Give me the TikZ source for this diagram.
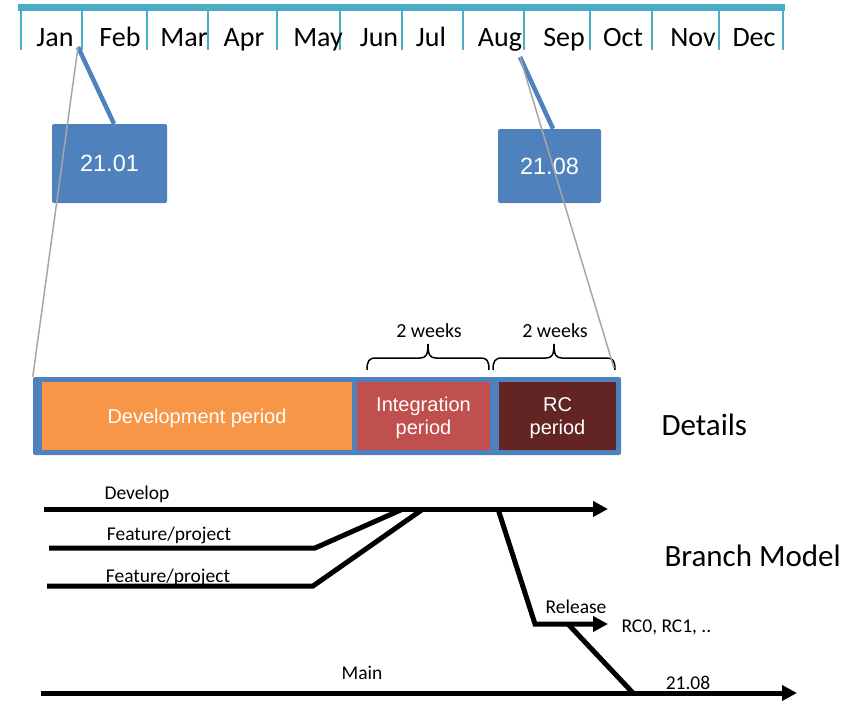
\documentclass[tikz,border=0pt]{standalone}
\usepackage{fontspec}
\setmainfont{Carlito}
\newfontfamily\arialfont{Liberation Sans}
\usetikzlibrary{arrows.meta}

\definecolor{barteal}{HTML}{4BACC6}
\definecolor{boxblue}{HTML}{4F81BD}
\definecolor{devorange}{HTML}{F79646}
\definecolor{integred}{HTML}{C0504D}
\definecolor{rcbrown}{HTML}{632523}
\definecolor{zoomgray}{HTML}{A6A6A6}

\begin{document}
\begin{tikzpicture}[x=1pt, y=-1pt,
	month/.style={anchor=base, font=\fontsize{28}{30}\selectfont},
	version/.style={fill=boxblue, rounded corners=2pt, inner sep=0, text=white, font=\arialfont\fontsize{23.5}{26}\selectfont},
	period/.style={inner sep=0, text=white, align=center, text depth=0pt, minimum height=68, font=\arialfont\fontsize{20}{23}\selectfont},
	callout/.style={boxblue, line width=4.5pt},
	zoomline/.style={zoomgray, line width=1.5pt},
	bracket/.style={line width=1.5pt},
	branch/.style={line width=5pt},
	arrowed/.style={-{Triangle[length=15pt,width=15pt]}},
	brlabel/.style={anchor=base, font=\fontsize{19.5}{22}\selectfont},
	heading/.style={anchor=base west, font=\fontsize{31}{34}\selectfont}]
	\useasboundingbox (0,0) rectangle (856,701);
	% month bar
	\fill[barteal] (18,4) rectangle (785,11);
	\draw[barteal, line width=2pt] (21,11) -- (21,50) (82,11) -- (82,50) (147,11) -- (147,50)
	  (208,11) -- (208,50) (277,11) -- (277,50) (340,11) -- (340,50) (402,11) -- (402,50)
	  (463,11) -- (463,50) (524,11) -- (524,50) (590,11) -- (590,50) (652,11) -- (652,50)
	  (719,11) -- (719,50) (783,11) -- (783,50);
	\node[month] (jan) at (55,47) {Jan};
	\node[month] (feb) at (120,47) {Feb};
	\node[month] (mar) at (184,47) {Mar};
	\node[month] (apr) at (244,47) {Apr};
	\node[month] (may) at (318,47) {May};
	\node[month] (jun) at (379,47) {Jun};
	\node[month] (jul) at (431,47) {Jul};
	\node[month] (aug) at (500,47) {Aug};
	\node[month] (sep) at (564,47) {Sep};
	\node[month] (oct) at (623,47) {Oct};
	\node[month] (nov) at (693,47) {Nov};
	\node[month] (dec) at (754,47) {Dec};
	\coordinate (jan pin) at (78,47);
	\coordinate (aug pin) at (520,57);

	% versions
	\node[version, minimum width=115, minimum height=79] (v2101) at (109.5,163.5) {21.01};
	\node[version, minimum width=103, minimum height=74] (v2108) at (549.5,166) {21.08};
	\draw[callout] (jan pin) -- ([xshift=4.5]v2101.north);
	\draw[callout] (aug pin) -- ([xshift=3.5]v2108.north);

	% details
	\node[fill=boxblue, rounded corners=2pt, inner sep=0, minimum width=588, minimum height=78] (frame) at (327,416) {};
	\node[period, fill=devorange, minimum width=310] (devp) at (197,416) {Development period};
	\node[period, fill=integred, minimum width=133] (intp) at (423.5,416) {Integration\\period};
	\node[period, fill=rcbrown, minimum width=117] (rcp) at (557.5,416) {RC\\period};
	\draw[bracket] (367,370) .. controls (367,361) and (369,358) .. (376,358) -- (420,358)
	  .. controls (426,358) and (428,355) .. (428,344) .. controls (428,355) and (430,358) .. (436,358)
	  -- (481,358) .. controls (487,358) and (489,361) .. (489,370);
	\draw[bracket] (493,370) .. controls (493,361) and (495,358) .. (502,358) -- (546,358)
	  .. controls (552,358) and (554,355) .. (554,344) .. controls (554,355) and (556,358) .. (562,358)
	  -- (607,358) .. controls (613,358) and (615,361) .. (615,370);
	\node[brlabel, font=\fontsize{20}{22}\selectfont] (wk1) at (429,337) {2 weeks};
	\node[brlabel, font=\fontsize{20}{22}\selectfont] (wk2) at (555,337) {2 weeks};
	\coordinate (rc end) at (614,368);
	\draw[zoomline] (jan pin) -- (frame.north west);
	\draw[zoomline] (aug pin) -- (rc end);
	\node[heading] (details) at (658,435) {Details};

	% branch model
	\coordinate (dev start) at (44,509);
	\coordinate (dev end) at (608,509);
	\coordinate (f1 start) at (49,548);
	\coordinate (f1 bend) at (315,548);
	\coordinate (f1 join) at (403,509);
	\coordinate (f2 start) at (47,586);
	\coordinate (f2 bend) at (313,586);
	\coordinate (f2 join) at (423,509);
	\coordinate (rel fork) at (498,509);
	\coordinate (rel bend) at (535,624);
	\coordinate (rel end) at (608,624);
	\coordinate (rel merge) at (568,624);
	\coordinate (main start) at (41,693);
	\coordinate (main join) at (633,693);
	\coordinate (main end) at (797,693);
	\draw[branch, arrowed] (dev start) -- (dev end);
	\draw[branch] (f1 start) -- (f1 bend) -- (f1 join);
	\draw[branch] (f2 start) -- (f2 bend) -- (f2 join);
	\draw[branch, arrowed] (rel fork) -- (rel bend) -- (rel end);
	\draw[branch] (rel merge) -- (main join);
	\draw[branch, arrowed] (main start) -- (main end);
	\node[brlabel] (develop) at (137,499) {Develop};
	\node[brlabel] (feat1) at (169,540) {Feature/project};
	\node[brlabel] (feat2) at (168,582) {Feature/project};
	\node[brlabel] (release) at (576,613) {Release};
	\node[brlabel, anchor=base west] (rcs) at (618,632) {RC0, RC1, ..};
	\node[brlabel] (mainlbl) at (362,679) {Main};
	\node[brlabel] (tag) at (688,689) {21.08};
	\node[heading] (bmodel) at (661,566) {Branch Model};
\end{tikzpicture}
\end{document}
